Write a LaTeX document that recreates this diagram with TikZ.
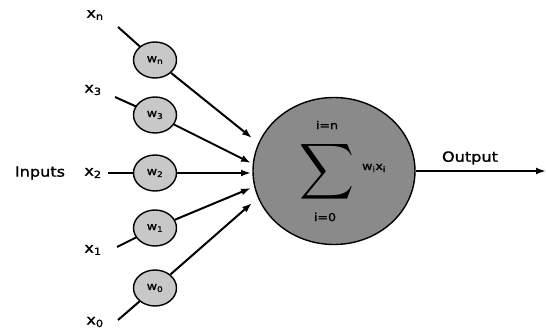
\documentclass[tikz,border=0pt]{standalone}
\usepackage{fontspec}
\setmainfont{DejaVu Sans}[FakeStretch=1.15, FakeBold=1.2]
\usetikzlibrary{arrows.meta, shapes.geometric}
\definecolor{sumgray}{HTML}{8A8A8A}
\definecolor{wgray}{HTML}{C8C8C8}
\tikzset{
  weight/.style={ellipse, draw, line width=1.4pt, fill=wgray, minimum width=43pt, minimum height=36pt, inner sep=0pt, font=\fontsize{11}{11}\selectfont},
  inlabel/.style={font=\fontsize{14}{14}\selectfont, inner sep=0pt},
  link/.style={line width=2pt},
  feed/.style={line width=2pt, -{Latex[length=10pt, width=7pt]}}
}
\begin{document}
\begin{tikzpicture}[x=1pt,y=-1pt]
\useasboundingbox (0,0) rectangle (546,334);

\node[ellipse, draw, line width=1.4pt, fill=sumgray, minimum width=162pt, minimum height=147pt] (sum) at (334,171) {};
\node[inner sep=0pt] (sigma) at (327,172) {\scalebox{3.8}[3.9]{$\displaystyle\sum$}};
\node[font=\fontsize{11}{11}\selectfont, inner sep=0pt] (top) at (327,125) {i=n};
\node[font=\fontsize{11}{11}\selectfont, inner sep=0pt] (bot) at (325,217) {i=0};
\node[font=\fontsize{11}{11}\selectfont, inner sep=0pt] (wx) at (374,168) {w\textsubscript{i}x\textsubscript{i}};

\node[inlabel] (inputs) at (40,173) {Inputs};
\node[inlabel] (xn) at (95,15) {x\textsubscript{n}};
\node[inlabel] (x3) at (93,90) {x\textsubscript{3}};
\node[inlabel] (x2) at (93,173) {x\textsubscript{2}};
\node[inlabel] (x1) at (93,250) {x\textsubscript{1}};
\node[inlabel] (x0) at (95,322) {x\textsubscript{0}};

\coordinate (sn) at (118,27);
\coordinate (s3) at (115,97);
\coordinate (s2) at (108,173);
\coordinate (s1) at (117,247);
\coordinate (s0) at (118,320);

\coordinate (tn) at (252,138);
\coordinate (t3) at (251,163);
\coordinate (t2) at (251,173);
\coordinate (t1) at (251,188);
\coordinate (t0) at (252,203);

\draw[link] (sn) -- (155,60);
\draw[link] (s3) -- (155,115);
\draw[link] (s2) -- (155,173);
\draw[link] (s1) -- (155,228);
\draw[link] (s0) -- (155,288);

\node[weight] (wn) at (155,60) {w\textsubscript{n}};
\node[weight] (w3) at (155,115) {w\textsubscript{3}};
\node[weight] (w2) at (155,173) {w\textsubscript{2}};
\node[weight] (w1) at (155,228) {w\textsubscript{1}};
\node[weight] (w0) at (155,288) {w\textsubscript{0}};

\draw[feed] (wn) -- (tn);
\draw[feed] (w3) -- (t3);
\draw[feed] (w2) -- (t2);
\draw[feed] (w1) -- (t1);
\draw[feed] (w0) -- (t0);

\coordinate (out) at (546,171);
\draw[feed] (sum) -- (out);
\node[inlabel] (output) at (470,158) {Output};
\end{tikzpicture}
\end{document}
